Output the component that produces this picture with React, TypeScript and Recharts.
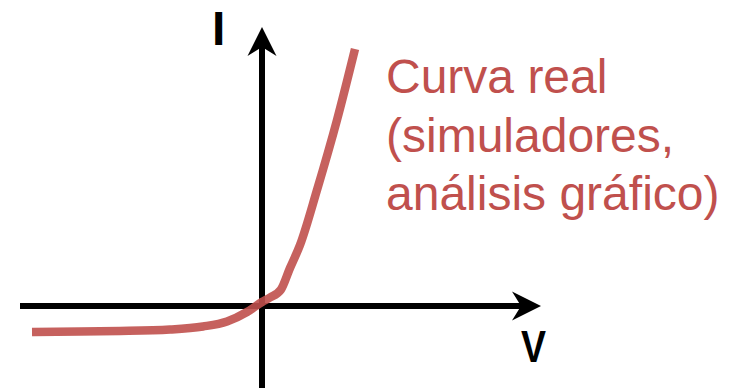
import React from "react";
import { LineChart, Line, XAxis, YAxis, ReferenceLine } from "recharts";

// curva I-V real de un diodo (unidades arbitrarias)
const voltage = [-2.3, -1.82, -1.42, -0.92, -0.59, -0.35, -0.15, 0, 0.08, 0.19, 0.28, 0.38, 0.55, 0.75, 0.93];
const current = [-0.26, -0.255, -0.25, -0.235, -0.205, -0.155, -0.06, 0.04, 0.085, 0.165, 0.38, 0.61, 1.16, 1.86, 2.57];

const xDomain: [number, number] = [-2.62, 4.69];
const yDomain: [number, number] = [-0.82, 3.06];

const axisX = [-2.42, 2.79];
const axisY = [-0.82, 2.79];

const annotation = ["Curva real", "(simuladores,", "análisis gráfico)"];

const RED = "#C0504D";
const FONT = "'Liberation Sans', Arial, sans-serif";

const data = voltage.map((v, i) => ({ v, i: current[i] }));

const ArrowLine = (props: any) => {
  const { x1, y1, x2, y2 } = props;
  const dx = x2 - x1;
  const dy = y2 - y1;
  const len = Math.hypot(dx, dy) || 1;
  const ux = dx / len;
  const uy = dy / len;
  const px = -uy;
  const py = ux;
  const L = 29;
  const W = 14.5;
  const N = 9;
  const bx = x2 - ux * L;
  const by = y2 - uy * L;
  const nx = x2 - ux * (L - N);
  const ny = y2 - uy * (L - N);
  return (
    <g>
      <line x1={x1} y1={y1} x2={nx} y2={ny} stroke="#000" strokeWidth={6} />
      <path
        d={`M${x2},${y2} L${bx + px * W},${by + py * W} L${nx},${ny} L${bx - px * W},${by - py * W} Z`}
        fill="#000"
      />
    </g>
  );
};

export default function App() {
  return (
    <div style={{ position: "absolute", left: 0, top: 0, width: 731, height: 388, background: "#fff" }}>
      <LineChart width={731} height={388} data={data} margin={{ top: 0, right: 0, bottom: 0, left: 0 }}>
        <XAxis type="number" dataKey="v" domain={xDomain} hide allowDataOverflow />
        <YAxis type="number" domain={yDomain} hide allowDataOverflow />
        <ReferenceLine
          segment={[{ x: axisX[0], y: 0 }, { x: axisX[1], y: 0 }]}
          shape={ArrowLine}
          ifOverflow="visible"
        />
        <ReferenceLine
          segment={[{ x: 0, y: axisY[0] }, { x: 0, y: axisY[1] }]}
          shape={ArrowLine}
          ifOverflow="visible"
        />
        <Line
          type="monotone"
          dataKey="i"
          stroke={RED}
          strokeOpacity={0.9}
          strokeWidth={8.5}
          strokeLinecap="butt"
          dot={false}
          activeDot={false}
          isAnimationActive={false}
        />
        <text x={212} y={45} fontFamily={FONT} fontWeight="bold" fontSize={48} fill="#000">
          I
        </text>
        <text
          x={521}
          y={362}
          fontFamily={FONT}
          fontWeight="bold"
          fontSize={44}
          fill="#000"
          textLength={25}
          lengthAdjust="spacingAndGlyphs"
        >
          V
        </text>
        {annotation.map((line, k) => (
          <text key={line} x={386} y={93 + k * 58.5} fontFamily={FONT} fontSize={48} fill={RED}>
            {line}
          </text>
        ))}
      </LineChart>
    </div>
  );
}
